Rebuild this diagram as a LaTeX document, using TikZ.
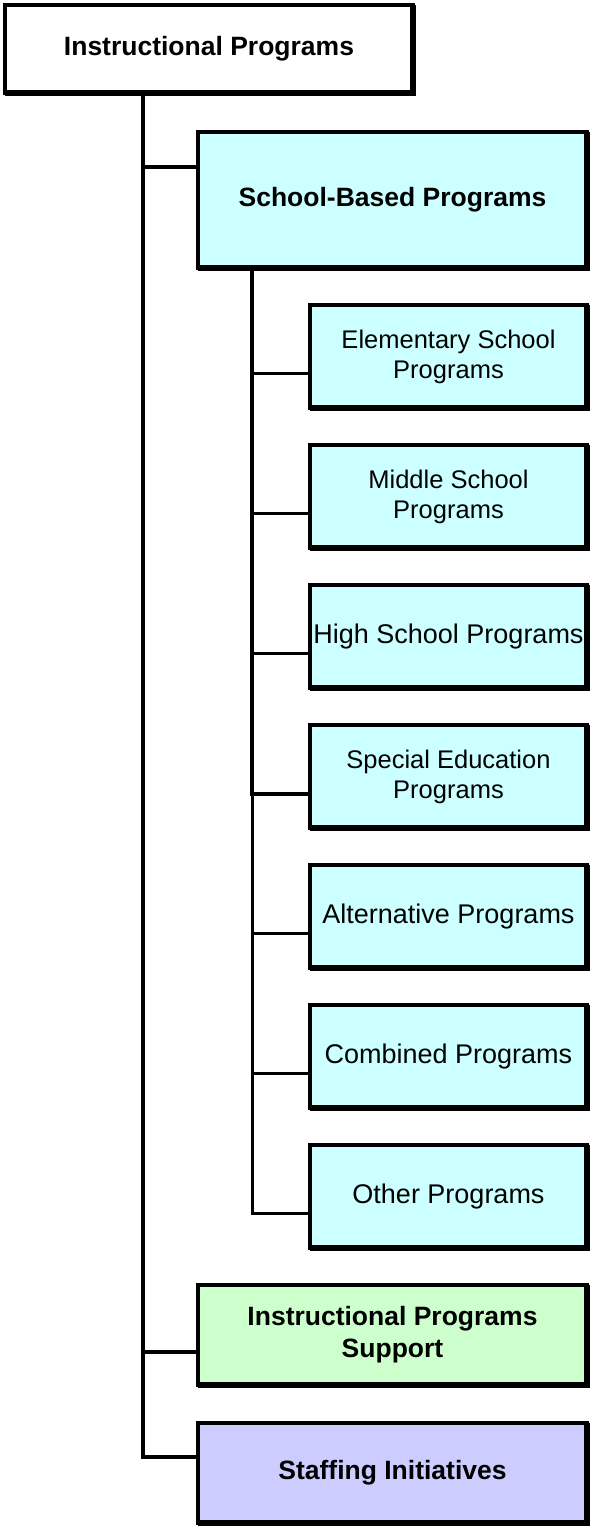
\documentclass[tikz,border=0pt]{standalone}
\usepackage{fontspec}
\setmainfont{Liberation Sans}
\usepackage{tikz}
\definecolor{progcyan}{HTML}{CCFFFF}
\definecolor{supgreen}{HTML}{CCFFCC}
\definecolor{stafblue}{HTML}{CCCCFF}

\begin{document}
\begin{tikzpicture}[x=1pt, y=-1pt,
    box/.style={draw=black, line width=4pt, anchor=north west, inner sep=0pt, outer sep=0pt, align=center},
    headbox/.style={box, font=\fontsize{26.5}{32}\selectfont\bfseries},
    subbox/.style={box, fill=progcyan, minimum width=277pt, minimum height=103pt, font=\fontsize{25.5}{30}\selectfont},
    oneline/.style={font=\fontsize{27}{30}\selectfont},
    shadowline/.style={line width=6pt},
    trunkline/.style={line width=4pt},
    branchline/.style={line width=3pt}]
            \useasboundingbox (0,0) rectangle (592,1527);

            % draw main boxes
            \node[headbox, minimum width=408pt, minimum height=88pt] (top) at (5,5) {Instructional Programs};
            \node[headbox, fill=progcyan, minimum width=389pt, minimum height=136pt] (sbp) at (198,132) {School-Based Programs};

            % draw school based boxes
            \node[subbox] (elem) at (310,305) {Elementary School\\Programs};
            \node[subbox] (mid) at (310,445) {Middle School\\Programs};
            \node[subbox, oneline] (high) at (310,585) {High School Programs};
            \node[subbox] (sped) at (310,725) {Special Education\\Programs};
            \node[subbox, oneline] (alt) at (310,865) {Alternative Programs};
            \node[subbox, oneline] (comb) at (310,1005) {Combined Programs};
            \node[subbox, oneline] (other) at (310,1145) {Other Programs};

            \node[headbox, fill=supgreen, minimum width=389pt, minimum height=100pt] (sup) at (198,1285) {Instructional Programs\\Support};
            \node[headbox, fill=stafblue, minimum width=389pt, minimum height=100pt] (staf) at (198,1423) {Staffing Initiatives};

            % draw heavy right and bottom edges
            \foreach \n in {top,sbp,elem,mid,high,sped,alt,comb,other,sup,staf}
                \draw[shadowline] (\n.north east) -- (\n.south east) -- (\n.south west);

            % draw main trunk
            \coordinate (trunk) at (143,93);
            \draw[trunkline] ([yshift=-35pt]sbp.north west) -| (trunk);
            \draw[trunkline] ([yshift=-67pt]sup.north west) -| (trunk);
            \draw[trunkline] ([yshift=-34pt]staf.north west) -| (trunk);

            % draw school based trunk
            \coordinate (subtrunk) at (252,268);
            \foreach \n in {elem,mid,high,alt,comb,other}
                \draw[branchline] ([yshift=-68pt]\n.north west) -| (subtrunk);
            \draw[trunkline] ([yshift=-69pt]sped.north west) -| (subtrunk);
        \end{tikzpicture}
\end{document}
